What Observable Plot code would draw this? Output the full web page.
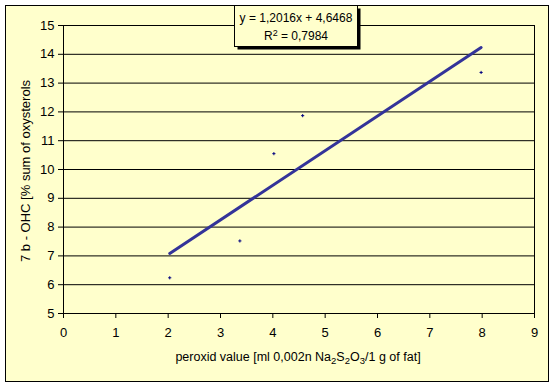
<!DOCTYPE html>
<html>
<head>
<meta charset="utf-8">
<script src="https://cdn.jsdelivr.net/npm/d3@7"></script>
<script src="https://cdn.jsdelivr.net/npm/@observablehq/plot@0.6"></script>
<style>
  html, body { margin: 0; padding: 0; background: #ffffff; }
  #wrap { position: relative; width: 553px; height: 385px; overflow: hidden; }
  #frame { position: absolute; left: 5px; top: 5px; width: 542px; height: 375px; border: 1px solid #000; background: #FFFFCC; }
  #chart { position: absolute; left: 0; top: 0; }
</style>
</head>
<body>
<div id="wrap"><div id="frame"></div><div id="chart"></div></div>
<script>
// Data
const peroxidValue = [2.03, 3.37, 4.02, 4.57, 7.98];
const ohc7b = [6.24, 7.52, 10.55, 11.87, 13.37];
const trendSlope = 1.2016;
const trendIntercept = 4.6468;
const rSquared = "0,7984";
const xTicks = [0, 1, 2, 3, 4, 5, 6, 7, 8, 9];
const yTicks = [5, 6, 7, 8, 9, 10, 11, 12, 13, 14, 15];
const yTitle = "7 b - OHC [% sum of oxysterols";

const points = peroxidValue.map((x, i) => ({x, y: ohc7b[i]}));
const xMin = d3.min(peroxidValue), xMax = d3.max(peroxidValue);
const trend = [xMin, xMax].map(x => ({x, y: trendSlope * x + trendIntercept}));

const font = "'Liberation Sans', Arial, sans-serif";

const plot = Plot.plot({
  width: 553,
  height: 385,
  marginLeft: 63,
  marginRight: 19,
  marginTop: 25,
  marginBottom: 72,
  style: {background: "transparent", fontFamily: font, fontSize: "13px", color: "#000"},
  x: {domain: [0, 9], ticks: xTicks, label: null},
  y: {domain: [5, 15], ticks: yTicks, label: null},
  marks: [
    Plot.gridY(yTicks, {stroke: "#000", strokeOpacity: 1}),
    Plot.frame({stroke: "#000"}),
    Plot.axisX(xTicks, {tickSize: 5, tickPadding: 9, label: null, fontSize: 13}),
    Plot.axisY(yTicks, {tickSize: 5, tickPadding: 4, label: null, fontSize: 13}),
    Plot.line(trend, {x: "x", y: "y", stroke: "#333399", strokeWidth: 3}),
    Plot.dot(points, {x: "x", y: "y", symbol: "plus", r: 1.1, stroke: "#000080", strokeWidth: 1})
  ]
});
document.getElementById("chart").appendChild(plot);

const svg = d3.select(plot);
// Y title
svg.append("text")
  .attr("transform", "translate(30,171) rotate(-90)")
  .attr("text-anchor", "middle")
  .attr("font-family", font).attr("font-size", 13).attr("fill", "#000")
  .text(yTitle);
// X title with subscripts
const xt = svg.append("text")
  .attr("x", 298).attr("y", 361)
  .attr("text-anchor", "middle")
  .attr("font-family", font).attr("font-size", 12.5).attr("fill", "#000");
xt.append("tspan").text("peroxid value [ml 0,002n Na");
xt.append("tspan").attr("font-size", 9.5).attr("dy", 3).text("2");
xt.append("tspan").attr("dy", -3).text("S");
xt.append("tspan").attr("font-size", 9.5).attr("dy", 3).text("2");
xt.append("tspan").attr("dy", -3).text("O");
xt.append("tspan").attr("font-size", 9.5).attr("dy", 3).text("3");
xt.append("tspan").attr("dy", -3).text("/1 g of fat]");

// Equation box
const box = svg.append("g");
box.append("rect").attr("x", 237.5).attr("y", 8.5).attr("width", 123).attr("height", 41).attr("fill", "#000");
box.append("rect").attr("x", 234.5).attr("y", 5.5).attr("width", 123).attr("height", 41)
  .attr("fill", "#FFFFCC").attr("stroke", "#000").attr("stroke-width", 1);
box.append("text").attr("x", 296).attr("y", 22).attr("text-anchor", "middle")
  .attr("font-family", font).attr("font-size", 12).attr("fill", "#000")
  .text("y = " + String(trendSlope).replace(".", ",") + "x + " + String(trendIntercept).replace(".", ","));
const r2 = box.append("text").attr("x", 296).attr("y", 40).attr("text-anchor", "middle")
  .attr("font-family", font).attr("font-size", 12).attr("fill", "#000");
r2.append("tspan").text("R");
r2.append("tspan").attr("font-size", 9).attr("dy", -4).text("2");
r2.append("tspan").attr("dy", 4).text(" = " + rSquared);
</script>
</body>
</html>
